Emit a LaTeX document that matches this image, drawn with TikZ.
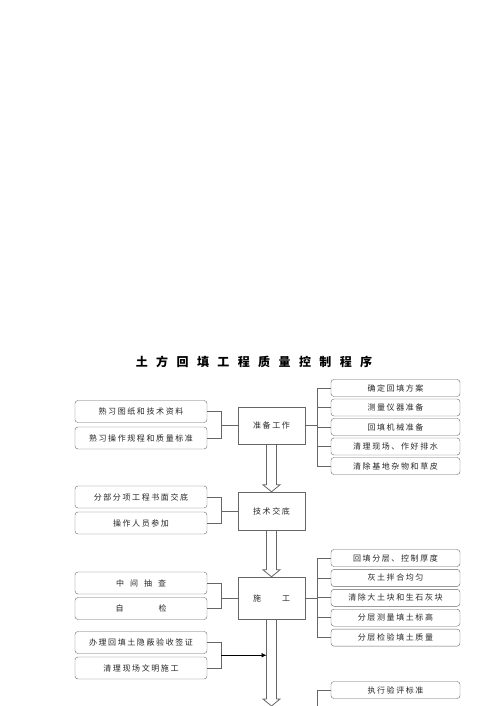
\documentclass[tikz,border=0pt]{standalone}
\usepackage{fontspec}
\newfontfamily\cjk[LetterSpace=20]{Noto Sans CJK SC}
\newfontfamily\titlefont[LetterSpace=70]{Noto Sans CJK SC}
\usetikzlibrary{positioning, arrows.meta}

\tikzset{
  every node/.style={font=\cjk\fontsize{8}{9}\selectfont, text=black!85},
  side/.style={draw=black!60, rounded corners=3pt, minimum width=132pt, minimum height=22pt, inner sep=0pt},
  task/.style={draw=black!60, rounded corners=3pt, minimum width=129pt, minimum height=17pt, inner sep=0pt},
  stage/.style={draw=black!60, minimum width=67pt, inner sep=0pt},
  link/.style={draw=black!60, line width=0.8pt},
}
% hollow arrow from the bottom of a stage to a tip
\newcommand{\bigarrow}[2]{%
  \draw[link] ([xshift=-5pt]#1.south) -- ([xshift=-5pt,yshift=7pt]#2) -- ([xshift=-8.5pt,yshift=7pt]#2)
    -- (#2) -- ([xshift=8.5pt,yshift=7pt]#2) -- ([xshift=5pt,yshift=7pt]#2) -- ([xshift=5pt]#1.south);}

\begin{document}
\begin{tikzpicture}[x=1pt, y=-1pt, node distance=19.5pt, on grid]
  \useasboundingbox (0,0) rectangle (500,706);
  \node[font=\titlefont\bfseries\fontsize{12}{14}\selectfont, text=black] (title) at (254,362) {土方回填工程质量控制程序};

  % stages
  \node[stage, minimum height=37pt] (m1) at (271.5,425.5) {准备工作};
  \node[stage, minimum height=38pt] (m2) at (271.5,511) {技术交底};
  \node[stage, minimum height=42pt] (m3) at (271.5,598) {施\hspace{21pt}工};
  \coordinate (a3tip) at (271.5,706);
  \coordinate (a3l) at ([xshift=-5pt]m3.south);

  % left side
  \node[side] (l1) at (141,411.5) {熟习图纸和技术资料};
  \node[side] (l2) [below=26.5pt of l1] {熟习操作规程和质量标准};
  \node[side] (l3) at (141,497) {分部分项工程书面交底};
  \node[side] (l4) [below=26pt of l3] {操作人员参加};
  \node[side] (l5) at (141,583) {中\hspace{6pt}间\hspace{6pt}抽\hspace{6pt}查};
  \node[side] (l6) [below=25.5pt of l5] {自\hspace{35pt}检};
  \node[side] (l7) at (141,642.5) {办理回填土隐蔽验收签证};
  \node[side] (l8) [below=25.5pt of l7] {清理现场文明施工};

  % right side
  \node[task] (r1) at (395.5,388) {确定回填方案};
  \node[task] (r2) [below=of r1] {测量仪器准备};
  \node[task] (r3) [below=of r2] {回填机械准备};
  \node[task] (r4) [below=of r3] {清理现场、作好排水};
  \node[task] (r5) [below=of r4] {清除基地杂物和草皮};
  \node[task] (r6) at (395.5,558) {回填分层、控制厚度};
  \node[task] (r7) [below=19.9pt of r6] {灰土拌合均匀};
  \node[task] (r8) [below=19.9pt of r7] {清除大土块和生石灰块};
  \node[task] (r9) [below=19.9pt of r8] {分层测量填土标高};
  \node[task] (r10) [below=19.9pt of r9] {分层检验填土质量};
  \node[task] (r11) at (395.5,690) {执行验评标准};

  % big arrows
  \bigarrow{m1}{m2.north}
  \bigarrow{m2}{m3.north}
  \bigarrow{m3}{a3tip}

  % left brackets
  \draw[link] (l1.east) -- ++(14,0) |- (l2.east);
  \draw[link] (m1.west) -- ++(-17,0);
  \draw[link] (l3.east) -- ++(14,0) |- (l4.east);
  \draw[link] (m2.west) -- ++(-17,0);
  \draw[link] (l5.east) -- ++(14,0) |- (l6.east);
  \draw[link] (m3.west) -- ++(-17,0);
  \draw[link] (l7.east) -- ++(14,0) coordinate (j4a) |- (l8.east);
  \coordinate (j4) at ([yshift=-12.75pt]j4a);
  \draw[black, line width=0.5pt, -{Latex[length=5pt,width=4.5pt]}] (j4) -- (j4 -| a3l);

  % right brackets
  \draw[link] (m1.east) -- ++(13,0);
  \draw[link] (r1.west) -- ++(-13,0) |- (r5.west);
  \foreach \n in {2,3,4} \draw[link] (r\n.west) -- ++(-13,0);
  \draw[link] (m3.east) -- ++(13,0);
  \draw[link] (r6.west) -- ++(-13,0) |- (r10.west);
  \foreach \n in {7,8,9} \draw[link] (r\n.west) -- ++(-13,0);
  \draw[link] (r11.west) -- ++(-13,0) -- ++(0,20);
\end{tikzpicture}
\end{document}
